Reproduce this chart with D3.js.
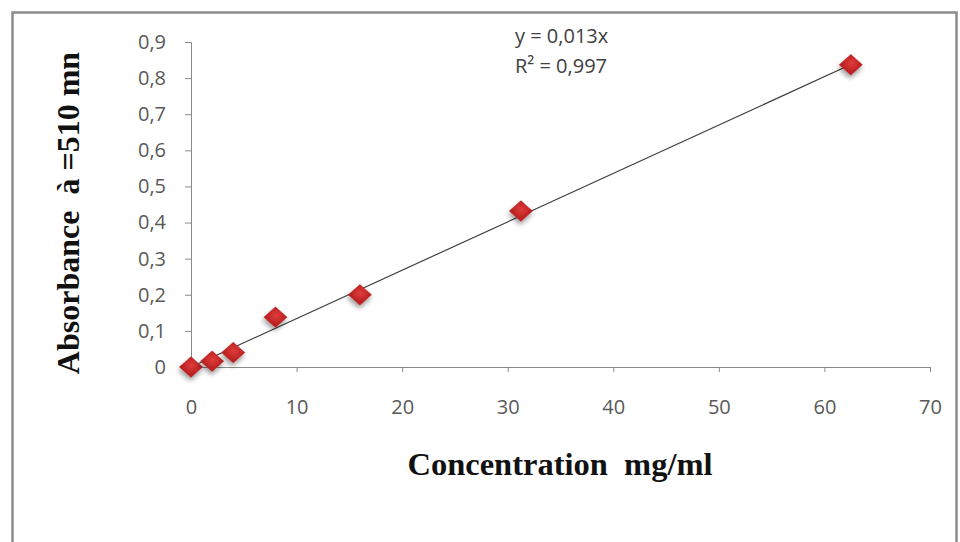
<!DOCTYPE html>
<html>
<head>
<meta charset="utf-8">
<script src="https://cdn.jsdelivr.net/npm/d3@7/dist/d3.min.js"></script>
<style>
html,body{margin:0;padding:0;background:#fff;}
svg{display:block;}
</style>
</head>
<body>
<svg id="chart" width="960" height="542"></svg>
<script>
const concentrations = [0, 2, 4, 8, 16, 31.25, 62.5];
const absorbances = [0, 0.016, 0.04, 0.138, 0.2, 0.432, 0.837];
const xTicks = [0, 10, 20, 30, 40, 50, 60, 70];
const yTicks = [0, 0.1, 0.2, 0.3, 0.4, 0.5, 0.6, 0.7, 0.8, 0.9];
const trendSlope = 0.0134;
const equationLines = ["y = 0,013x", "R² = 0,997"];
const xTitle = "Concentration  mg/ml";
const yTitle = "Absorbance  à =510 mn";

const svg = d3.select("#chart");
const mLeft = 191, mRight = 930, mTop = 42, mBottom = 367;

// outer frame
svg.append("rect").attr("x", 12.5).attr("y", 12.5).attr("width", 944).attr("height", 540)
  .attr("fill", "#fff").attr("stroke", "#8c8c8c").attr("stroke-width", 2.5);

const x = d3.scaleLinear().domain([0, 70]).range([mLeft, mRight]);
const y = d3.scaleLinear().domain([0, 0.9]).range([mBottom, mTop]);

const xAxis = svg.append("g").attr("transform", `translate(0,${mBottom})`)
  .call(d3.axisBottom(x).tickValues(xTicks).tickSizeInner(5).tickSizeOuter(5).tickPadding(28).tickFormat(d => d));
const yAxis = svg.append("g").attr("transform", `translate(${mLeft},0)`)
  .call(d3.axisLeft(y).tickValues(yTicks).tickSizeInner(6).tickSizeOuter(6).tickPadding(19)
    .tickFormat(d => d === 0 ? "0" : d3.format(".1f")(d).replace(".", ",")));

[xAxis, yAxis].forEach(g => {
  g.select(".domain").attr("stroke", "#8a8a8a").attr("stroke-width", 1);
  g.selectAll(".tick line").attr("stroke", "#8a8a8a");
  g.selectAll(".tick text").attr("fill", "#595959")
    .style("font-family", "'Open Sans', 'Liberation Sans', sans-serif").style("font-size", "20px");
});

// shadow filter
const defs = svg.append("defs");
const f = defs.append("filter").attr("id", "sh").attr("x", "-50%").attr("y", "-50%").attr("width", "200%").attr("height", "200%");
f.append("feGaussianBlur").attr("in", "SourceAlpha").attr("stdDeviation", 2.4).attr("result", "b");
f.append("feOffset").attr("in", "b").attr("dx", 1.5).attr("dy", 2.5).attr("result", "o");
f.append("feComponentTransfer").attr("in", "o").attr("result", "o2")
  .append("feFuncA").attr("type", "linear").attr("slope", 0.4);
const m = f.append("feMerge");
m.append("feMergeNode").attr("in", "o2");
m.append("feMergeNode").attr("in", "SourceGraphic");

const grad = defs.append("radialGradient").attr("id", "rg").attr("cx", "45%").attr("cy", "40%").attr("r", "60%");
grad.append("stop").attr("offset", "0%").attr("stop-color", "#e23c3c");
grad.append("stop").attr("offset", "100%").attr("stop-color", "#b82020");

// trendline
const xMax = d3.max(concentrations);
svg.append("line")
  .attr("x1", x(0)).attr("y1", y(0))
  .attr("x2", x(xMax)).attr("y2", y(trendSlope * xMax))
  .attr("stroke", "#404040").attr("stroke-width", 1.2);

// markers
const sym = d3.symbol().type(d3.symbolSquare).size(225);
svg.append("g").selectAll("path").data(concentrations.map((c, i) => [c, absorbances[i]]))
  .join("path")
  .attr("transform", d => `translate(${x(d[0])},${y(d[1])}) scale(1.12,1) rotate(45)`)
  .attr("d", sym)
  .attr("fill", "url(#rg)")
  .attr("filter", "url(#sh)");

// equation
const eq = svg.append("text").attr("x", 515).attr("y", 43)
  .style("font-family", "'Open Sans', 'Liberation Sans', sans-serif").style("font-size", "20px").attr("fill", "#404040");
equationLines.forEach((t, i) => {
  eq.append("tspan").attr("x", 515).attr("dy", i === 0 ? 0 : 30).text(t);
});

// axis titles
svg.append("text").attr("x", 560).attr("y", 475).attr("text-anchor", "middle")
  .style("font-family", "'Liberation Serif', 'Times New Roman', serif").style("font-weight", "bold")
  .style("font-size", "32.5px").style("white-space", "pre").attr("fill", "#111").text(xTitle);
svg.append("text").attr("transform", "translate(79,213) rotate(-90)").attr("text-anchor", "middle")
  .style("font-family", "'Liberation Serif', 'Times New Roman', serif").style("font-weight", "bold")
  .style("font-size", "32px").style("white-space", "pre").attr("fill", "#111").text(yTitle);
</script>
</body>
</html>
